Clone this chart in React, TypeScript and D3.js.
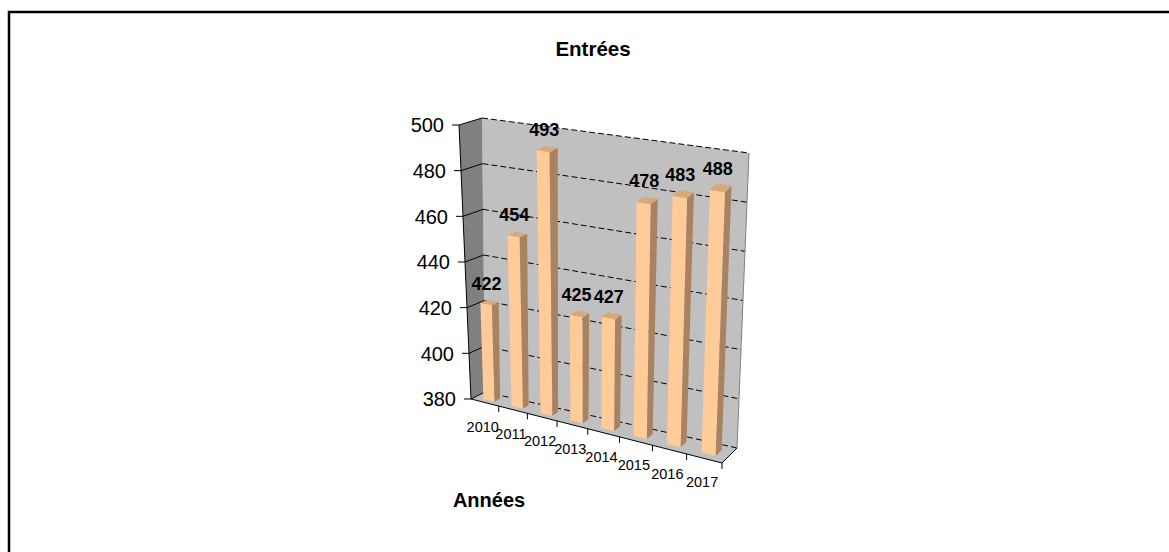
import React from 'react';
import * as d3 from 'd3';

const years = ['2010', '2011', '2012', '2013', '2014', '2015', '2016', '2017'];
const entrees = [422, 454, 493, 425, 427, 478, 483, 488];
const yTicks = [380, 400, 420, 440, 460, 480, 500];

type Pt = [number, number];

// screen corners of the 3D box (u across, v up, w back)
const FLB: Pt = [471, 399];
const FLT: Pt = [459, 125];
const FRB: Pt = [722, 463];
const FRT: Pt = [733, 170];
const BLB: Pt = [485, 392];
const BLT: Pt = [482, 118];
const BRB: Pt = [737, 448];
const BRT: Pt = [749, 153];

const lerp = (a: Pt, b: Pt, t: number): Pt => [a[0] + (b[0] - a[0]) * t, a[1] + (b[1] - a[1]) * t];

// slight perspective across the x direction
const warp = (u: number) => u / (u + 1.15 * (1 - u));

const project = (u: number, v: number, w: number): Pt => {
  const uu = warp(u);
  const front = lerp(lerp(FLB, FRB, uu), lerp(FLT, FRT, uu), v);
  const back = lerp(lerp(BLB, BRB, uu), lerp(BLT, BRT, uu), v);
  return lerp(front, back, w);
};

const poly = (pts: Pt[]) => 'M' + pts.map(p => p.join(',')).join('L') + 'Z';
const line = (a: Pt, b: Pt) => `M${a[0]},${a[1]}L${b[0]},${b[1]}`;

const font = '"Liberation Sans", Arial, sans-serif';

const App: React.FC = () => {
  const y = d3.scaleLinear().domain([380, 500]).range([0, 1]);
  const x = d3.scaleBand<string>().domain(years).range([0, 1]).paddingInner(0.6).paddingOuter(0.3);
  const step = 1 / years.length;
  const wf = 0.3;
  const wb = 0.7;

  return (
    <svg width={1169} height={552} style={{ position: 'absolute', left: 0, top: 0, background: '#fff' }}>
      <path d="M9,552V12H1169" fill="none" stroke="#000" strokeWidth={2.5} />

      <text x={593} y={56} textAnchor="middle" fontFamily={font} fontSize={20.5} fontWeight="bold">Entrées</text>

      {/* walls */}
      <path d={poly([project(0, 0, 1), project(1, 0, 1), project(1, 1, 1), project(0, 1, 1)])} fill="#c0c0c0" />
      <path d={poly([project(0, 0, 0), project(0, 0, 1), project(0, 1, 1), project(0, 1, 0)])} fill="#808080" />
      <path d={poly([project(0, 0, 0), project(1, 0, 0), project(1, 0, 1), project(0, 0, 1)])} fill="#c0c0c0" />

      {/* gridlines */}
      {yTicks.map(t => (
        <g key={'g' + t}>
          <path d={line(project(0, y(t), 1), project(1, y(t), 1))} stroke="#000" strokeWidth={1} strokeDasharray="6,3" />
          <path d={line(project(0, y(t), 0), project(0, y(t), 1))} stroke="#000" strokeWidth={1} />
        </g>
      ))}
      <path d={line(project(1, 0, 1), project(1, 1, 1))} stroke="#808080" strokeWidth={1} />
      <path d={line(project(1, 0, 0), project(1, 0, 1))} stroke="#000" strokeWidth={1} />

      {/* y axis */}
      <path d={line(project(0, 0, 0), project(0, 1, 0))} stroke="#000" strokeWidth={1} />
      {yTicks.map(t => {
        const p = project(0, y(t), 0);
        return (
          <g key={'y' + t}>
            <path d={line([p[0] - 7, p[1]], p)} stroke="#000" strokeWidth={1} />
            <text x={p[0] - 15} y={p[1]} dy="0.36em" textAnchor="end" fontFamily={font} fontSize={20}>{t}</text>
          </g>
        );
      })}

      {/* x axis */}
      <path d={line(project(0, 0, 0), project(1, 0, 0))} stroke="#000" strokeWidth={1} />
      {years.map((yr, i) => {
        const p = project((i + 1) * step, 0, 0);
        const c = project((x(yr) as number) + x.bandwidth() / 2, 0, 0);
        return (
          <g key={'x' + yr}>
            <path d={line(p, [p[0], p[1] + 6])} stroke="#000" strokeWidth={1} />
            <text x={c[0] - 2} y={c[1] + 29} textAnchor="middle" fontFamily={font} fontSize={14.5}>{yr}</text>
          </g>
        );
      })}

      {/* bars */}
      {years.map((yr, i) => {
        const u0 = x(yr) as number;
        const u1 = u0 + x.bandwidth();
        const v1 = y(entrees[i]);
        const front = poly([project(u0, 0, wf), project(u1, 0, wf), project(u1, v1, wf), project(u0, v1, wf)]);
        const side = poly([project(u1, 0, wf), project(u1, 0, wb), project(u1, v1, wb), project(u1, v1, wf)]);
        const top = poly([project(u0, v1, wf), project(u1, v1, wf), project(u1, v1, wb), project(u0, v1, wb)]);
        const lp = project((u0 + u1) / 2, v1, 0.5);
        return (
          <g key={'b' + yr}>
            <path d={front} fill="#ffcc99" />
            <path d={side} fill="#a9835f" />
            <path d={top} fill="#d9a878" />
            <text x={lp[0] - 3} y={lp[1] - 13} textAnchor="middle" fontFamily={font} fontSize={18} fontWeight="bold">{entrees[i]}</text>
          </g>
        );
      })}

      <text x={489} y={507} textAnchor="middle" fontFamily={font} fontSize={20} fontWeight="bold">Années</text>
    </svg>
  );
};

export default App;
